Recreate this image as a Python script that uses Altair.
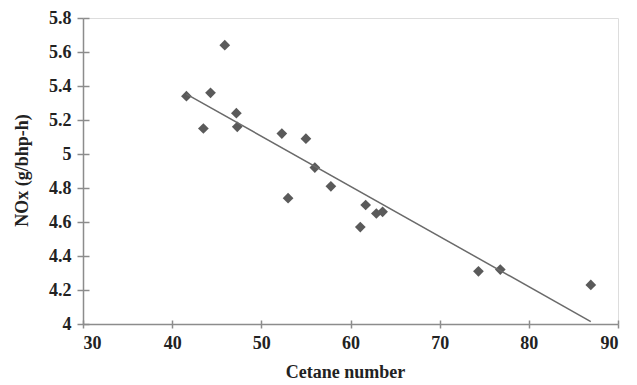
import altair as alt
import pandas as pd

cetane = [41.6, 43.5, 44.3, 45.9, 47.2, 47.3, 52.3, 53.0, 55.0, 56.0, 57.8,
          61.1, 61.7, 62.9, 63.6, 74.35, 76.8, 86.95]
nox = [5.34, 5.15, 5.36, 5.64, 5.24, 5.16, 5.12, 4.74, 5.09, 4.92, 4.81,
       4.57, 4.70, 4.65, 4.66, 4.31, 4.32, 4.23]
x_ticks = [30, 40, 50, 60, 70, 80, 90]
y_ticks = [4.0, 4.2, 4.4, 4.6, 4.8, 5.0, 5.2, 5.4, 5.6, 5.8]

df = pd.DataFrame({"cn": cetane, "nox": nox})

W, H = 535, 306
FONT = "Liberation Serif"
AXC = "#8c8c8c"
FS = 18

xs = alt.Scale(domain=[30, 90], nice=False, zero=False)
ys = alt.Scale(domain=[4, 5.8], nice=False, zero=False)

x_main = alt.X("cn:Q", scale=xs, axis=alt.Axis(
    values=x_ticks, title="Cetane number", grid=False,
    domainColor=AXC, domainWidth=1.5, tickColor=AXC, tickWidth=1.5, tickSize=4,
    labelFont=FONT, labelFontSize=FS, labelFontWeight="bold", labelColor="#222",
    labelPadding=6,
    titleFont=FONT, titleFontSize=FS, titleFontWeight="bold", titleColor="#222",
    titleX=262, titleY=39, titleBaseline="top"))
y_main = alt.Y("nox:Q", scale=ys, axis=alt.Axis(
    values=y_ticks, title="NOx (g/bhp-h)", format="~g", grid=False,
    domainColor=AXC, domainWidth=1.5, tickColor=AXC, tickWidth=1.5, tickSize=6,
    labelFont=FONT, labelFontSize=FS, labelFontWeight="bold", labelColor="#222",
    labelPadding=6,
    titleFont=FONT, titleFontSize=FS, titleFontWeight="bold", titleColor="#222",
    titleX=-61, titleY=152, titleAngle=270, titleBaseline="middle",
    titleAlign="center"))

points = alt.Chart(df).mark_point(
    shape="diamond", filled=True, color="#5a5a5a", size=115, opacity=1
).encode(x=x_main, y=y_main)

x_in = alt.X("cn:Q", scale=xs, axis=alt.Axis(
    values=x_ticks, orient="top", offset=-H, title=None, labels=False,
    domain=False, grid=False, tickColor=AXC, tickWidth=1.5, tickSize=4))
y_in = alt.Y("nox:Q", scale=ys, axis=alt.Axis(
    values=y_ticks, orient="right", offset=-W, title=None, labels=False,
    domain=False, grid=False, tickColor=AXC, tickWidth=1.5, tickSize=6))

trend = alt.Chart(df).transform_regression("cn", "nox").mark_line(
    color="#6a6a6a", strokeWidth=1.5
).encode(x=x_in, y=y_in)

chart = alt.layer(points, trend).resolve_scale(
    x="independent", y="independent"
).properties(
    width=W, height=H, autosize="none",
    padding={"left": 75, "top": 10, "right": 11, "bottom": 62}
).configure_view(strokeWidth=0).configure(background="white")

chart.save("out.html", embed_options={"renderer": "svg", "actions": False})
